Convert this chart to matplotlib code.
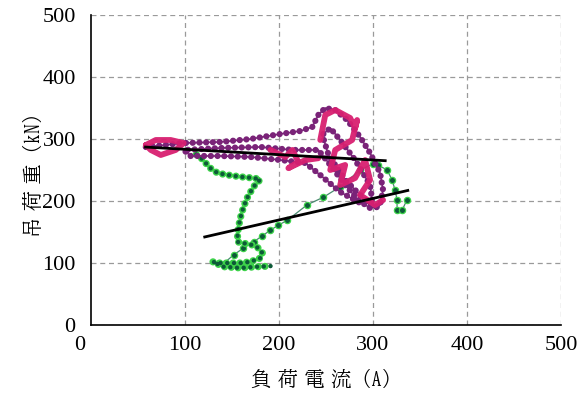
import numpy as np
import matplotlib
matplotlib.use("Agg")
import matplotlib.pyplot as plt

plt.rcParams['font.family'] = ['Liberation Serif', 'BIZ UDMincho', 'DejaVu Serif']

# ---- data ----
# magenta series, segments separated by NaN
mag_x = [58.3, 68.9, 84.8, 98.6, 90.1, 74.2, 63.6, 58.3, np.nan,
         190.9, 206.8, 214.2, 220.6, 210.0, 228.0, 241.8, np.nan,
         243.9, 249.2, 259.8, 275.7, 281.0, 283.1, 277.8, 259.8, 254.5,
         270.4, 265.1, 281.0, 291.6, 296.9, 286.3, 302.2, 310.7]
mag_y = [290.3, 298.4, 298.4, 293.5, 282.3, 274.2, 282.3, 290.3, np.nan,
         282.3, 271.0, 282.3, 263.0, 253.0, 266.0, 269.0, np.nan,
         298.4, 338.7, 346.8, 333.9, 317.7, 330.6, 298.4, 282.3, 250.0,
         258.1, 225.8, 237.1, 266.1, 233.9, 209.7, 193.5, 201.6]

# purple series
pur_x = [58.3, 98.6, 137.9, 169.7, 201.5, 222.7, 235.4, 241.8, 249.2, 259.8,
         272.5, 286.3, 296.9, 307.5, 310.7, 307.5, 296.9, 284.2, 270.4, 254.5,
         241.8, 215.3, 180.3, 137.9, 98.6, 106.0, 137.9, 169.7, 201.5, 228.0,
         243.9, 265.1, 286.3, 299.0, 296.9, 281.0, 265.1, 254.5, 246.1, 252.7,
         270.4, 291.6, 305.4]
pur_y = [287.1, 293.5, 295.2, 300.0, 308.1, 312.9, 319.4, 338.7, 350.0, 346.8,
         330.6, 303.2, 277.4, 245.2, 217.7, 193.5, 188.7, 201.6, 225.8, 258.1,
         282.3, 282.3, 287.1, 285.5, 282.3, 272.6, 272.6, 271.0, 266.1, 261.3,
         241.9, 214.5, 196.8, 201.6, 225.8, 266.1, 298.4, 317.7, 306.5, 274.2,
         233.9, 201.6, 188.7]

# green series, thick part
grn_x = [112.0, 119.8, 125.1, 134.7, 145.3, 159.1, 172.9, 180.3, 172.9, 166.5,
         162.2, 159.1, 156.9, 155.9, 155.9, 162.2, 171.8, 178.2, 182.4, 180.3,
         169.7, 159.1, 145.3, 134.7, 129.4, 141.0, 159.0, 177.0, 191.0]
grn_y = [275.0, 266.0, 255.0, 245.0, 242.0, 239.0, 237.0, 235.0, 223.0, 206.0,
         190.0, 174.0, 158.0, 145.0, 134.0, 132.0, 129.0, 124.0, 116.0, 108.0,
         102.0, 100.0, 100.0, 100.0, 102.0, 94.0, 92.0, 94.0, 95.0]

# green series, thin return part
grt_x = [141.0, 151.6, 162.2, 172.9, 182.4, 190.9, 199.4, 208.9, 230.1, 247.1,
         265.1, 286.3, 300.1, 305.4, 315.0, 320.3, 323.4, 325.6, 325.6, 330.9, 336.2]
grt_y = [99.0, 113.0, 124.0, 134.0, 144.0, 153.0, 161.0, 169.0, 194.0, 206.0,
         223.0, 250.0, 260.0, 258.0, 250.0, 234.0, 218.0, 202.0, 185.0, 185.0, 202.0]

# regression lines
line1_x = [58, 313]
line1_y = [287, 265]
line2_x = [121, 337]
line2_y = [142, 217]

xticks = [100, 200, 300, 400, 500]
yticks = [0, 100, 200, 300, 400, 500]
xlabel = '負\u2004荷\u2004電\u2004流（A）'
ylabel = '吊\u2004荷\u2004重（kN）'

# ---- figure ----
fig = plt.figure(figsize=(5.84, 4.01), dpi=100)
ax = fig.add_axes([91/584, 1-325/401, 470/584, 310/401])
ax.set_xlim(0, 500)
ax.set_ylim(0, 500)

ax.grid(True, color='#9a9a9a', linestyle=(0, (4, 3)), linewidth=0.9)
ax.set_axisbelow(True)
for s in ['top', 'right']:
    ax.spines[s].set_visible(False)
for s in ['left', 'bottom']:
    ax.spines[s].set_linewidth(1.2)

mag = '#d81f70'
pur = '#7a2378'
gdk = '#0d5a38'
glt = '#3dd24a'

sp = 4.8  # bead spacing in points

# green thin part
ax.plot(grt_x, grt_y, color='#4a8a70', lw=0.9, zorder=2)
ax.plot(grt_x, grt_y, ls='none', marker='o', ms=4.5, mfc=gdk, mec=glt, mew=0.9, zorder=3)
# green thick part
ax.plot(grn_x, grn_y, color=glt, lw=5.2, ls=(0, (0.01, sp/5.2)),
        dash_capstyle='round', zorder=3)
ax.plot(grn_x, grn_y, color=gdk, lw=3.2, ls=(0, (0.01, sp/3.2)),
        dash_capstyle='round', zorder=3.1)

# purple
ax.plot(pur_x, pur_y, color=pur, lw=1.2, zorder=4)
ax.plot(pur_x, pur_y, color=pur, lw=4.5, ls=(0, (0.01, sp/4.5)),
        dash_capstyle='round', zorder=4)

# magenta
ax.plot(mag_x, mag_y, color=mag, lw=4.2, solid_capstyle='round',
        solid_joinstyle='round', zorder=5, alpha=0.95)

# black lines
ax.plot(line1_x, line1_y, color='black', lw=2.0, zorder=6)
ax.plot(line2_x, line2_y, color='black', lw=2.0, zorder=6)

ax.set_xticks(xticks)
ax.set_xticklabels([str(v) for v in xticks])
ax.set_yticks(yticks)
ax.set_yticklabels([str(v) for v in yticks])
ax.tick_params(axis='both', length=0, labelsize=16)
ax.tick_params(axis='x', pad=8)
ax.tick_params(axis='y', pad=11)
ax.annotate('0', xy=(0, 0), xycoords='data', xytext=(-8, -8),
            textcoords='offset points', fontsize=16, ha='center', va='top',
            annotation_clip=False)

lab_font = ['BIZ UDMincho', 'DejaVu Serif']
ax.set_xlabel(xlabel, fontsize=14.5, labelpad=10, family=lab_font)
ax.set_ylabel(ylabel, fontsize=14.5, labelpad=0, family=lab_font)

fig.savefig('out.png', dpi=100)
